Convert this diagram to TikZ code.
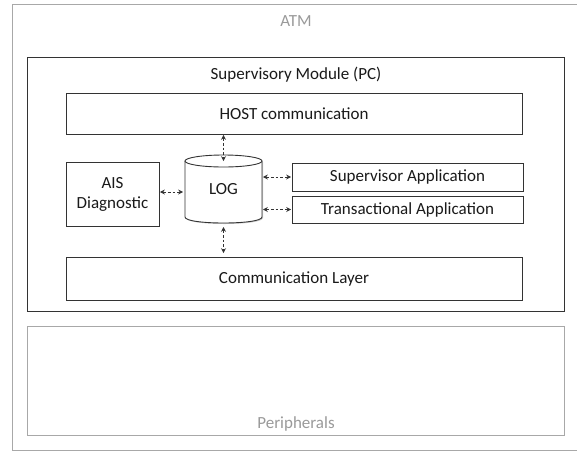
\documentclass[tikz,border=0pt]{standalone}
\usepackage{fontspec}
\setmainfont{Carlito}
\usetikzlibrary{arrows.meta,shadows,calc}
\definecolor{boxline}{HTML}{333333}
\definecolor{greyline}{HTML}{A8A8A8}
\definecolor{greytext}{HTML}{9A9A9A}
\definecolor{maintext}{HTML}{1A1A1A}
\begin{document}
\begin{tikzpicture}[x=1pt,y=-1pt,
  every node/.style={inner sep=0pt, outer sep=0pt, text=maintext,
    font=\fontsize{17}{20}\selectfont},
  box/.style={draw=boxline, line width=0.9pt, fill=white,
    drop shadow={shadow xshift=0.9pt, shadow yshift=-1.1pt, opacity=0.25, fill=black}},
  greybox/.style={draw=greyline, line width=1pt, fill=white},
  dashlink/.style={draw=boxline, line width=0.9pt, dash pattern=on 2.8pt off 2pt,
    {Stealth[length=4.8pt,width=5pt]}-{Stealth[length=4.8pt,width=5pt]}},
  greylabel/.style={text=greytext}]
\useasboundingbox (0,0) rectangle (577,451);
% ATM outer container (its right edge lies beyond the picture)
\draw[draw=greyline, line width=1pt] (578,4) -- (12,4) -- (12,450) -- (578,450);
\node[greylabel] (atmlabel) at (296,21) {ATM};
% Supervisory module
\node[box, line width=1pt, minimum width=537pt, minimum height=254pt] (sup) at (295.5,184) {};
\node (suplabel) at (296,75) {Supervisory Module (PC)};
% Inner boxes
\node[box, minimum width=456pt, minimum height=41pt] (host) at (294,113.5) {HOST communication};
\node[box, minimum width=93pt, minimum height=64pt, align=center] (ais) at (112.5,194) {AIS\\Diagnostic};
\node[box, minimum width=231pt, minimum height=28pt] (supapp) at (407.5,177) {Supervisor Application};
\node[box, minimum width=231pt, minimum height=27pt] (trans) at (407.5,209.5) {Transactional Application};
\node[box, minimum width=456pt, minimum height=43pt] (comm) at (294,278.5) {Communication Layer};
% LOG cylinder
\fill[black, opacity=0.2] (186,162) -- (186,218) .. controls (186,226) and (263,226) .. (263,218) -- (263,162) -- cycle;
\filldraw[draw=boxline, line width=0.9pt, fill=white]
  (185,161) -- (185,217) .. controls (185,225) and (262,225) .. (262,217) -- (262,161);
\filldraw[draw=boxline, line width=0.9pt, fill=white] (223.5,161) ellipse [x radius=38.5, y radius=6];
\node[minimum width=77pt, minimum height=68pt] (log) at (223.5,189) {LOG};
% Peripherals
\node[greybox, minimum width=537pt, minimum height=109pt,
  drop shadow={shadow xshift=0.8pt, shadow yshift=-1pt, opacity=0.15, fill=black}] (periph) at (295.5,380.5) {};
\node[greylabel] (periphlabel) at (296,424) {Peripherals};
% Connectors
\draw[dashlink, shorten <=1pt] (log.north |- host.south) -- ($(log.north)+(0,6)$);
\draw[dashlink, shorten <=1pt, shorten >=2pt] ($(ais.east)+(0,-2)$) -- ($(log.west |- ais.east)+(0,-2)$);
\draw[dashlink, shorten <=1pt, shorten >=1pt] (log.east |- supapp.west) -- (supapp.west);
\draw[dashlink, shorten <=1pt, shorten >=1pt] (log.east |- trans.west) -- (trans.west);
\draw[dashlink, shorten >=4pt] ($(log.south)+(0,4)$) -- (log.south |- comm.north);
\end{tikzpicture}
\end{document}
